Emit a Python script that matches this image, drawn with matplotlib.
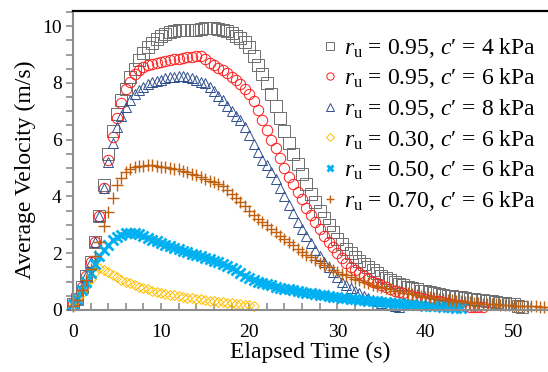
import numpy as np
import matplotlib
matplotlib.use("Agg")
import matplotlib.pyplot as plt
from matplotlib.ticker import MultipleLocator

plt.rcParams['font.family'] = ['Liberation Serif', 'DejaVu Serif']
plt.rcParams['mathtext.fontset'] = 'custom'
plt.rcParams['mathtext.rm'] = 'Liberation Serif'
plt.rcParams['mathtext.it'] = 'Liberation Serif:italic'

DT = 0.5

v_095_c4 = [0.2, 0.4, 0.8, 1.2, 1.7, 2.4, 3.3, 4.4, 5.5, 6.3,
            6.9, 7.4, 7.8, 8.2, 8.5, 8.8, 9.05, 9.25, 9.4, 9.55,
            9.65, 9.72, 9.78, 9.82, 9.85, 9.87, 9.88, 9.86, 9.87, 9.9,
            9.92, 9.93, 9.92, 9.9, 9.86, 9.82, 9.75, 9.67, 9.57, 9.43,
            9.25, 8.95, 8.62, 8.3, 8.0, 7.6, 7.2, 6.75, 6.3, 5.9,
            5.5, 5.15, 4.8, 4.45, 4.1, 3.8, 3.5, 3.25, 3.0, 2.75,
            2.5, 2.32, 2.15, 2.0, 1.85, 1.72, 1.6, 1.5, 1.4, 1.3,
            1.2, 1.12, 1.05, 0.98, 0.92, 0.87, 0.82, 0.77, 0.72, 0.68,
            0.65, 0.62, 0.59, 0.56, 0.53, 0.5, 0.48, 0.46, 0.44, 0.42,
            0.4, 0.38, 0.36, 0.34, 0.32, 0.3, 0.28, 0.26, 0.24, 0.22,
            0.19, 0.15, 0.11]

v_095_c6 = [0.2, 0.4, 0.8, 1.2, 1.7, 2.4, 3.3, 4.3, 5.3, 6.1,
            6.75, 7.3, 7.8, 8.05, 8.3, 8.45, 8.55, 8.62, 8.68, 8.72,
            8.75, 8.78, 8.8, 8.83, 8.86, 8.88, 8.9, 8.92, 8.94, 8.96,
            8.85, 8.72, 8.62, 8.53, 8.45, 8.35, 8.22, 8.1, 7.95, 7.8,
            7.6, 7.35, 7.05, 6.7, 6.35, 6.0, 5.7, 5.35, 5.0, 4.7,
            4.45, 4.15, 3.9, 3.6, 3.35, 3.1, 2.85, 2.6, 2.4, 2.2,
            2.0, 1.82, 1.66, 1.52, 1.4, 1.29, 1.18, 1.09, 1.0, 0.93,
            0.86, 0.8, 0.74, 0.68, 0.63, 0.58, 0.54, 0.5, 0.46, 0.42,
            0.39, 0.36, 0.33, 0.3, 0.27, 0.24, 0.21, 0.18, 0.16, 0.13,
            0.11, 0.1, 0.1, 0.1]

v_095_c8 = [0.2, 0.4, 0.8, 1.2, 1.7, 2.4, 3.3, 4.3, 5.2, 5.9,
            6.45, 6.85, 7.15, 7.4, 7.6, 7.75, 7.85, 7.95, 8.02, 8.08,
            8.12, 8.16, 8.2, 8.22, 8.24, 8.24, 8.22, 8.18, 8.12, 8.05,
            7.98, 7.85, 7.7, 7.55, 7.4, 7.2, 7.0, 6.85, 6.7, 6.45,
            6.15, 5.85, 5.55, 5.3, 5.1, 4.85, 4.6, 4.3, 4.0, 3.7,
            3.4, 3.1, 2.85, 2.6, 2.35, 2.1, 1.9, 1.7, 1.5, 1.32,
            1.15, 1.0, 0.88, 0.76, 0.66, 0.58, 0.5, 0.43, 0.36, 0.3,
            0.25, 0.2, 0.16, 0.12, 0.09]

v_030_c6 = [0.15, 0.35, 0.6, 0.85, 1.1, 1.35, 1.48, 1.42, 1.33, 1.24,
            1.15, 1.07, 1.0, 0.94, 0.88, 0.82, 0.77, 0.72, 0.68, 0.64,
            0.6, 0.57, 0.54, 0.51, 0.48, 0.45, 0.43, 0.41, 0.39, 0.37,
            0.35, 0.33, 0.31, 0.29, 0.27, 0.26, 0.24, 0.22, 0.2, 0.18,
            0.16, 0.15]

v_050_c6 = [0.2, 0.4, 0.7, 1.0, 1.3, 1.6, 1.9, 2.1, 2.3, 2.45,
            2.56, 2.64, 2.7, 2.72, 2.7, 2.66, 2.6, 2.54, 2.48, 2.42,
            2.36, 2.3, 2.24, 2.18, 2.13, 2.08, 2.03, 1.98, 1.94, 1.89,
            1.84, 1.79, 1.74, 1.68, 1.62, 1.56, 1.48, 1.4, 1.3, 1.21,
            1.13, 1.06, 1.0, 0.95, 0.9, 0.86, 0.82, 0.78, 0.75, 0.72,
            0.69, 0.66, 0.63, 0.6, 0.58, 0.55, 0.53, 0.51, 0.49, 0.47,
            0.45, 0.43, 0.41, 0.39, 0.37, 0.36, 0.34, 0.33, 0.31, 0.3,
            0.28, 0.27, 0.26, 0.24, 0.23, 0.22, 0.2, 0.19, 0.18, 0.17,
            0.15, 0.14, 0.13, 0.12, 0.11, 0.1, 0.09, 0.08, 0.07]

v_070_c6 = [0.15, 0.35, 0.7, 1.05, 1.45, 1.9, 2.4, 2.95, 3.45, 3.95,
            4.4, 4.65, 4.85, 4.95, 5.02, 5.06, 5.08, 5.1, 5.1, 5.08,
            5.05, 5.03, 5.0, 4.98, 4.95, 4.9, 4.85, 4.8, 4.75, 4.7,
            4.63, 4.56, 4.5, 4.43, 4.35, 4.22, 4.1, 3.95, 3.8, 3.65,
            3.5, 3.36, 3.22, 3.1, 2.98, 2.86, 2.74, 2.62, 2.5, 2.38,
            2.27, 2.16, 2.05, 1.95, 1.85, 1.76, 1.67, 1.58, 1.5, 1.42,
            1.35, 1.28, 1.22, 1.16, 1.1, 1.04, 0.99, 0.94, 0.89, 0.84,
            0.8, 0.76, 0.72, 0.68, 0.65, 0.61, 0.58, 0.55, 0.52, 0.49,
            0.47, 0.44, 0.42, 0.4, 0.38, 0.36, 0.34, 0.32, 0.3, 0.28,
            0.27, 0.25, 0.24, 0.22, 0.21, 0.2, 0.19, 0.18, 0.17, 0.16,
            0.15, 0.14, 0.14, 0.13, 0.12, 0.12, 0.11, 0.11, 0.1]

labels = [r"$r_{\mathrm{u}}$ = 0.95, $c$′ = 4 kPa",
          r"$r_{\mathrm{u}}$ = 0.95, $c$′ = 6 kPa",
          r"$r_{\mathrm{u}}$ = 0.95, $c$′ = 8 kPa",
          r"$r_{\mathrm{u}}$ = 0.30, $c$′ = 6 kPa",
          r"$r_{\mathrm{u}}$ = 0.50, $c$′ = 6 kPa",
          r"$r_{\mathrm{u}}$ = 0.70, $c$′ = 6 kPa"]

series = [v_095_c4, v_095_c6, v_095_c8, v_030_c6, v_050_c6, v_070_c6]
colors = ['#6e6e6e', '#ff1a1a', '#2f4f8f', '#ffc000', '#00b0f0', '#c0600f']
markers = ['s', 'o', '^', 'D', 'x', '+']
sizes = [8, 7.5, 7.5, 5.5, 7, 8.5]
mews = [0.7, 0.7, 0.7, 0.7, 2.0, 1.0]

fig = plt.figure(figsize=(5.48, 3.72), dpi=100)
ax = fig.add_axes([0.133, 0.167, 0.867, 0.803])

for v, lab, c, m, s, w in zip(series, labels, colors, markers, sizes, mews):
    t = np.arange(len(v)) * DT
    ax.plot(t, v, linestyle='none', marker=m, markersize=s, markeredgewidth=w,
            markerfacecolor='none', markeredgecolor=c, label=lab, clip_on=False)

ax.set_xlim(0, 53.9)
ax.set_ylim(0, 10.53)
ax.xaxis.set_major_locator(MultipleLocator(10))
ax.xaxis.set_minor_locator(MultipleLocator(2))
ax.yaxis.set_major_locator(MultipleLocator(2))
ax.yaxis.set_minor_locator(MultipleLocator(0.5))

gray = '#8c8c8c'
for side in ['left', 'bottom']:
    ax.spines[side].set_color(gray)
    ax.spines[side].set_linewidth(1.5)
ax.spines['top'].set_color('black')
ax.spines['top'].set_linewidth(1.6)
ax.spines['right'].set_visible(False)

ax.tick_params(axis='x', which='both', direction='in', length=5, width=1.2,
               color=gray, labelsize=14, pad=10)
ax.tick_params(axis='y', which='both', direction='out', length=5, width=1.2,
               color=gray, labelsize=14, pad=3)

ax.set_xlabel('Elapsed Time (s)', fontsize=17, labelpad=1)
ax.set_ylabel('Average Velocity (m/s)', fontsize=17)
ax.yaxis.set_label_coords(-0.077, 0.47)

ax.legend(loc='upper right', bbox_to_anchor=(1.0, 0.957), frameon=False, fontsize=17,
          handlelength=0.6, handletextpad=0.3, labelspacing=0.28, borderaxespad=0.1,
          markerscale=0.7)

fig.savefig('out.png', dpi=100)
